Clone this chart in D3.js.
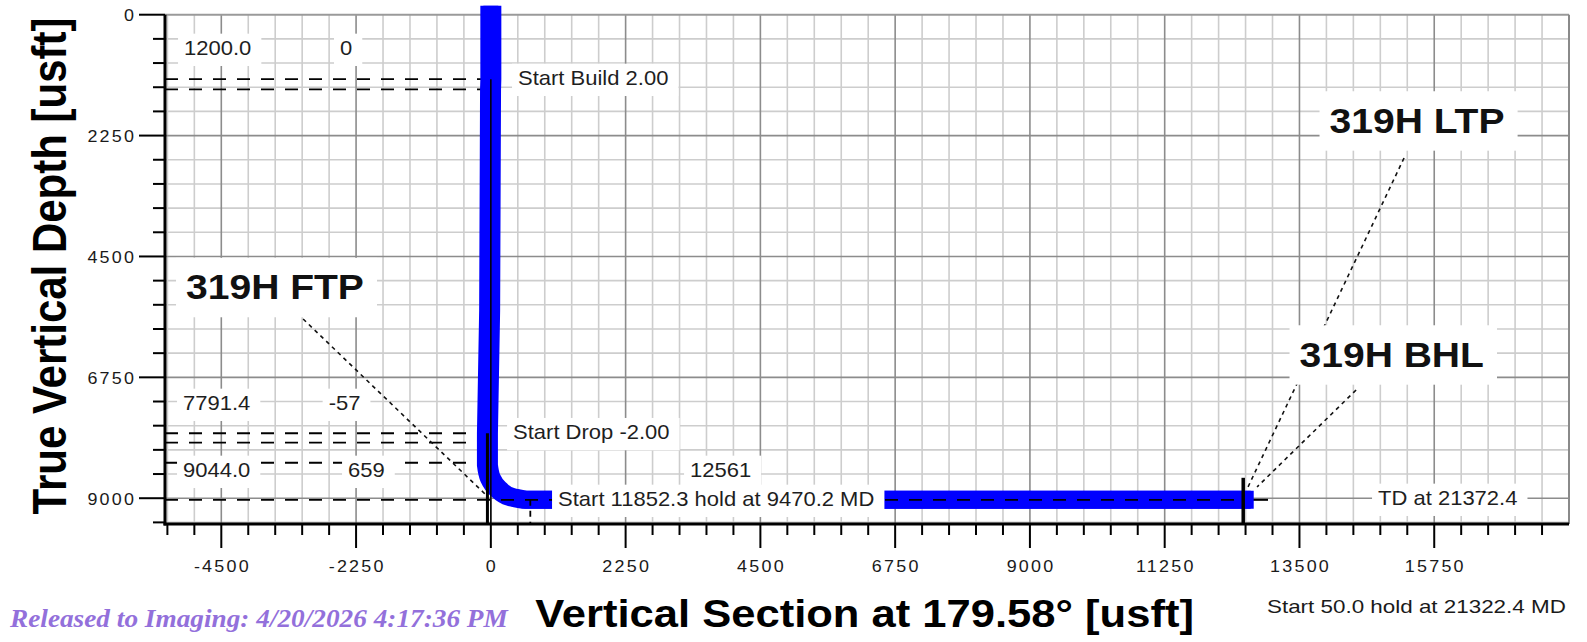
<!DOCTYPE html>
<html><head><meta charset="utf-8">
<script src="https://cdn.jsdelivr.net/npm/d3@7"></script>
<style>
html,body{margin:0;padding:0;background:#fff;}
svg{display:block;background:#fff;}
</style></head><body>
<svg id="chart" width="1587" height="642"></svg>
<script>
// ---------------- data ----------------
const xTickValues = [-4500, -2250, 0, 2250, 4500, 6750, 9000, 11250, 13500, 15750];
const yTickValues = [0, 2250, 4500, 6750, 9000];

// well path (vertical section, TVD) in usft
const vertVS  = [0, 0, -5, -20, -57, -57, -57];
const vertTVD = [0, 1200, 1390, 5500, 7791, 7966, 8382];
const bendVS  = [-57, -7, 129, 331, 571];
const bendTVD = [8382, 8628, 8836, 8976, 9030];
const latVS   = [571, 12561];
const latTVD  = [9030, 9030];

// horizontal reference (dashed) lines
const refTVD   = [1200, 1390, 7791, 7966, 8340];
const refEndVS = [0, 0, -57, -57, -57];

// vertical marker lines (to bottom of plot)
const markVS     = [0, -57, 659, 12561];
const markTopTVD = [1200, 7791, 9030, 8620];

// lateral target line and tail
const lateralTVD = 9030;
const lateralEndVS = 12561;
const tailEndVS = 12975;

// annotation labels (text, VS, TVD of baseline-left)
const labelText = ["1200.0", "0", "Start Build 2.00", "7791.4", "-57", "Start Drop -2.00",
                   "9044.0", "659", "12561", "Start 11852.3 hold at 9470.2 MD", "TD at 21372.4"];
const labelVS   = [-5122, -2518, 454, -5139, -2708, 371, -5139, -2384, 3326, 1122, 14812];
const labelTVD  = [750, 750, 1309, 7358, 7358, 7903, 8605, 8605, 8605, 9145, 9126];

// target tags and their leader lines
const tagText  = ["319H FTP", "319H LTP", "319H BHL"];
const tagVS    = [-5089, 14002, 13501];
const tagTVD   = [5297, 2196, 6552];
const leadVS0  = [-3134, 15246, 14445];
const leadTVD0 = [5664, 2667, 6986];
const leadVS1  = [-80, 12641, 12792];
const leadTVD1 = [8940, 8791, 8791];

// ---------------- drawing ----------------
const svg = d3.select("#chart");
const FONT = "'Liberation Sans', Arial, Helvetica, sans-serif";

const x = d3.scaleLinear().domain([-5440, 18000]).range([165, 1569]);
const y = d3.scaleLinear().domain([0, 9480]).range([14.7, 524]);
const [x0, x1] = x.range();
const [y0, y1] = y.range();

const minorX = d3.range(-5400, 18000, 450);
const minorY = d3.range(450, 9480, 450);
const isMajor = v => Math.abs(v % 2250) < 1e-6;

// grid
const grid = svg.append("g");
function gridLines(major) {
  const col = major ? "#8c8c8c" : "#cdcdcd";
  grid.selectAll(null).data(minorX.filter(v => isMajor(v) === major)).join("line")
    .attr("x1", d => x(d)).attr("x2", d => x(d)).attr("y1", y0).attr("y2", y1)
    .attr("stroke", col).attr("stroke-width", 1.6);
  grid.selectAll(null).data(minorY.filter(v => isMajor(v) === major)).join("line")
    .attr("y1", d => y(d)).attr("y2", d => y(d)).attr("x1", x0).attr("x2", x1)
    .attr("stroke", col).attr("stroke-width", 1.6);
}
gridLines(false);
gridLines(true);
grid.append("line").attr("x1", x0).attr("x2", x1).attr("y1", y0).attr("y2", y0).attr("stroke", "#9a9a9a").attr("stroke-width", 2);
grid.append("line").attr("x1", x1).attr("x2", x1).attr("y1", y0).attr("y2", y1).attr("stroke", "#8a8a8a").attr("stroke-width", 2);

// dashed reference lines (below path)
const marks = svg.append("g");
marks.selectAll(null).data(refTVD).join("line")
  .attr("x1", x0).attr("x2", (d, i) => x(refEndVS[i]))
  .attr("y1", d => y(d)).attr("y2", d => y(d))
  .attr("stroke", "#000").attr("stroke-width", 1.8).attr("stroke-dasharray", "13,11");

// tail segment
marks.append("line").attr("x1", x(lateralEndVS)).attr("x2", x(tailEndVS))
  .attr("y1", y(lateralTVD)).attr("y2", y(lateralTVD)).attr("stroke", "#000").attr("stroke-width", 2);

// well path (blue): straight vertical part, smooth bend, straight lateral
const toPts = (a, b) => a.map((v, i) => [v, b[i]]);
const linLine = d3.line().x(d => x(d[0])).y(d => y(d[1]));
const bendLine = d3.line().x(d => x(d[0])).y(d => y(d[1])).curve(d3.curveMonotoneY);
const pathD = linLine(toPts(vertVS, vertTVD))
  + bendLine(toPts(bendVS, bendTVD)).replace(/^M/, "L")
  + linLine(toPts(latVS, latTVD)).replace(/^M/, "L");
[-1.5, 1.5].forEach(dx => {
  svg.append("path").attr("d", pathD).attr("transform", `translate(${dx},0)`)
    .attr("fill", "none").attr("stroke", "#0000ff").attr("stroke-width", 18)
    .attr("stroke-linecap", "square").attr("stroke-linejoin", "round");
});

// vertical marker lines
const markW = [1.5, 3, 1.8, 3.5];
const markDash = [null, null, "6,5", null];
const over = svg.append("g");
over.selectAll(null).data(markVS).join("line")
  .attr("x1", d => x(d)).attr("x2", d => x(d))
  .attr("y1", (d, i) => y(markTopTVD[i])).attr("y2", y1)
  .attr("stroke", "#000").attr("stroke-width", (d, i) => markW[i])
  .attr("stroke-dasharray", (d, i) => markDash[i]);

// lateral dashed line (on top of path)
over.append("line").attr("x1", x0).attr("x2", x(lateralEndVS))
  .attr("y1", y(lateralTVD)).attr("y2", y(lateralTVD))
  .attr("stroke", "#000").attr("stroke-width", 1.8).attr("stroke-dasharray", "13,11");

// leader lines
over.selectAll(null).data(tagText).join("line")
  .attr("x1", (d, i) => x(leadVS0[i])).attr("y1", (d, i) => y(leadTVD0[i]))
  .attr("x2", (d, i) => x(leadVS1[i])).attr("y2", (d, i) => y(leadTVD1[i]))
  .attr("stroke", "#111").attr("stroke-width", 1.6).attr("stroke-dasharray", "4,4");

// text helper
function addText(parent, str, px, py, o) {
  const g = parent.append("g");
  const rect = o.box ? g.append("rect").attr("fill", "#fff") : null;
  const t = g.append("text").text(str)
    .attr("font-size", o.size).attr("font-weight", o.weight || "normal")
    .attr("font-style", o.fstyle || "normal")
    .attr("font-family", o.family || FONT)
    .attr("fill", o.fill || "#1e1e1e")
    .attr("text-anchor", o.anchor || "start")
    .style("letter-spacing", (o.ls || 0) + "px");
  const len = t.node().getComputedTextLength();
  const sx = o.width ? o.width / len : (o.sx || 1);
  const rot = o.rotate ? ` rotate(${o.rotate})` : "";
  t.attr("transform", `translate(${px},${py}) scale(${sx},1)${rot}`);
  if (rect) {
    const w = len * sx, cap = o.size * 0.716;
    let left = px;
    if (o.anchor === "middle") left = px - w / 2; else if (o.anchor === "end") left = px - w;
    rect.attr("x", left - o.padL).attr("y", py - cap - o.padT)
      .attr("width", w + o.padL + o.padR).attr("height", cap + o.padT + o.padB);
  }
  return t;
}

const labels = svg.append("g");
const smallStyle = {size: 20, sx: 1.1, box: true, padL: 6, padR: 10, padT: 7, padB: 11};
labelText.forEach((s, i) => addText(labels, s, x(labelVS[i]), y(labelTVD[i]), smallStyle));
const bigStyle = {size: 35.5, sx: 1.1, weight: "bold", fill: "#111", box: true, padL: 10, padR: 13, padT: 16, padB: 18};
tagText.forEach((s, i) => addText(labels, s, x(tagVS[i]), y(tagTVD[i]), bigStyle));

// axes frame (black left/bottom)
const ax = svg.append("g");
ax.append("line").attr("x1", x0).attr("x2", x0).attr("y1", y0).attr("y2", y1 + 1.5).attr("stroke", "#000").attr("stroke-width", 3);
ax.append("line").attr("x1", x0 - 1.5).attr("x2", x1).attr("y1", y1).attr("y2", y1).attr("stroke", "#000").attr("stroke-width", 3);

// x ticks
ax.selectAll(null).data(minorX).join("line")
  .attr("x1", d => x(d)).attr("x2", d => x(d))
  .attr("y1", y1).attr("y2", d => y1 + (isMajor(d) ? 24 : 11))
  .attr("stroke", "#000").attr("stroke-width", 2);
// y ticks
const yTicksAll = [0].concat(minorY);
ax.selectAll(null).data(yTicksAll).join("line")
  .attr("y1", d => y(d)).attr("y2", d => y(d))
  .attr("x1", x0).attr("x2", d => x0 - (isMajor(d) ? 26 : 12))
  .attr("stroke", "#000").attr("stroke-width", 2);

const tickStyle = {size: 16, sx: 1.12, ls: 2, fill: "#1a1a1a"};
xTickValues.forEach(v => addText(ax, String(v), x(v) + 1.1, 571.7, Object.assign({anchor: "middle"}, tickStyle)));
yTickValues.forEach(v => addText(ax, String(v), 136.2, y(v) + 6.3, Object.assign({anchor: "end"}, tickStyle)));

// axis titles
addText(svg, "Vertical Section at 179.58\u00b0 [usft]", 864.5, 627, {size: 38.5, weight: "bold", fill: "#000", anchor: "middle", width: 659});
addText(svg, "True Vertical Depth [usft]", 66, 266, {size: 42, weight: "bold", fill: "#000", anchor: "middle", sx: 1.14, rotate: -90});

// footer texts
addText(svg, "Start 50.0 hold at 21322.4 MD", 1267, 613.3, {size: 18.6, fill: "#1a1a1a", width: 299});
addText(svg, "Released to Imaging: 4/20/2026 4:17:36 PM", 10, 627,
  {size: 26, weight: "bold", fstyle: "italic", family: "'Liberation Serif','Times New Roman',serif", fill: "#9370DB", width: 498});
</script>
</body></html>
